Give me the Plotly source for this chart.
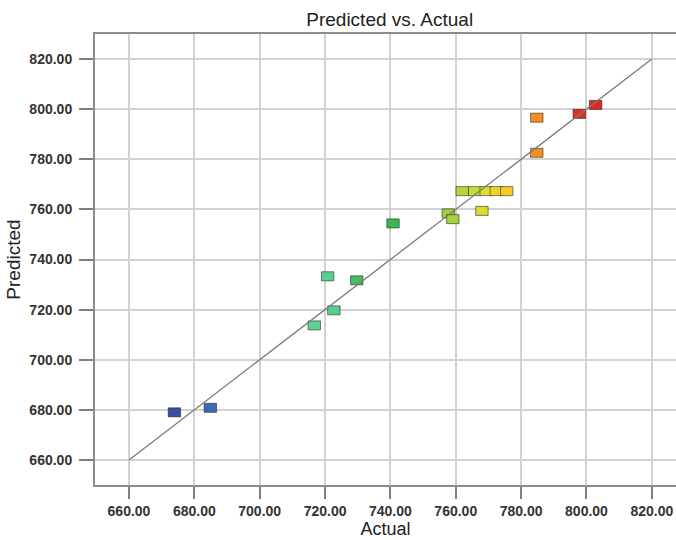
import plotly.graph_objects as go

# Observed (actual) vs model-predicted responses
actual = [673.9, 684.9, 716.7, 720.8, 722.7, 729.7, 740.8, 757.7, 759.1,
          762.0, 765.8, 769.3, 772.4, 775.6, 768.0, 784.8, 784.8, 797.8, 802.8]
predicted = [679.0, 680.8, 713.7, 733.3, 719.7, 731.7, 754.4, 758.4, 756.1,
             767.3, 767.3, 767.3, 767.3, 767.3, 759.4, 796.6, 782.6, 798.1, 801.7]

# Reference line y = x
ref_line = [660, 820]
tick_vals = [660, 680, 700, 720, 740, 760, 780, 800, 820]

# Rectangle marker size in data units
BOX_W = 3.8
BOX_H = 3.6

colorscale = [
    [0.00, "#3b4da6"], [0.15, "#3f7fc0"], [0.33, "#5ed197"], [0.38, "#5acd8e"],
    [0.44, "#3fbc58"], [0.52, "#3cb652"], [0.65, "#9fd23d"], [0.74, "#dede30"],
    [0.79, "#f5cc22"], [0.86, "#f49020"], [0.96, "#e23020"], [1.00, "#e02820"],
]

fig = go.Figure()

fig.add_trace(go.Scatter(
    x=ref_line, y=ref_line, mode="lines",
    line=dict(color="#7a7a7a", width=1.3),
    hoverinfo="skip", showlegend=False,
))

fig.add_trace(go.Bar(
    x=actual,
    y=[BOX_H] * len(actual),
    base=[p - BOX_H / 2 for p in predicted],
    width=BOX_W,
    marker=dict(
        color=actual, colorscale=colorscale,
        cmin=min(actual), cmax=max(actual),
        line=dict(color="rgba(30,30,30,0.55)", width=1),
    ),
    customdata=predicted,
    hovertemplate="Actual: %{x:.2f}<br>Predicted: %{customdata:.2f}<extra></extra>",
    showlegend=False,
))

font_family = "Liberation Sans, Arial, sans-serif"
axis_common = dict(
    tickmode="array", tickvals=tick_vals,
    ticktext=[f"{v:.2f}" for v in tick_vals],
    ticks="outside", tickcolor="#808080", tickwidth=1.5,
    showgrid=True, gridcolor="#d2d2d2", gridwidth=1.5,
    showline=True, linecolor="#8c8c8c", linewidth=2,
    zeroline=False,
    tickfont=dict(family=font_family, size=14, color="#333333", weight="bold"),
)

fig.update_layout(
    width=676, height=540,
    margin=dict(l=95, r=0, t=34, b=55),
    paper_bgcolor="white", plot_bgcolor="white",
    barmode="overlay",
    title=dict(
        text="Predicted vs. Actual",
        font=dict(family=font_family, size=19, color="#222222"),
        x=389.7 / 676, xref="container", xanchor="center",
        y=1 - 19 / 540, yref="container", yanchor="middle",
    ),
    xaxis=dict(
        range=[649.6, 827.4], ticklen=12, mirror=True,
        title=dict(text="Actual", font=dict(family=font_family, size=18, color="#222222"),
                   standoff=4),
        **axis_common,
    ),
    yaxis=dict(
        range=[650, 830], ticklen=14, ticklabelstandoff=4,
        title=dict(text="Predicted", font=dict(family=font_family, size=19, color="#222222"),
                   standoff=4),
        **axis_common,
    ),
)

fig.write_html("out.html")
